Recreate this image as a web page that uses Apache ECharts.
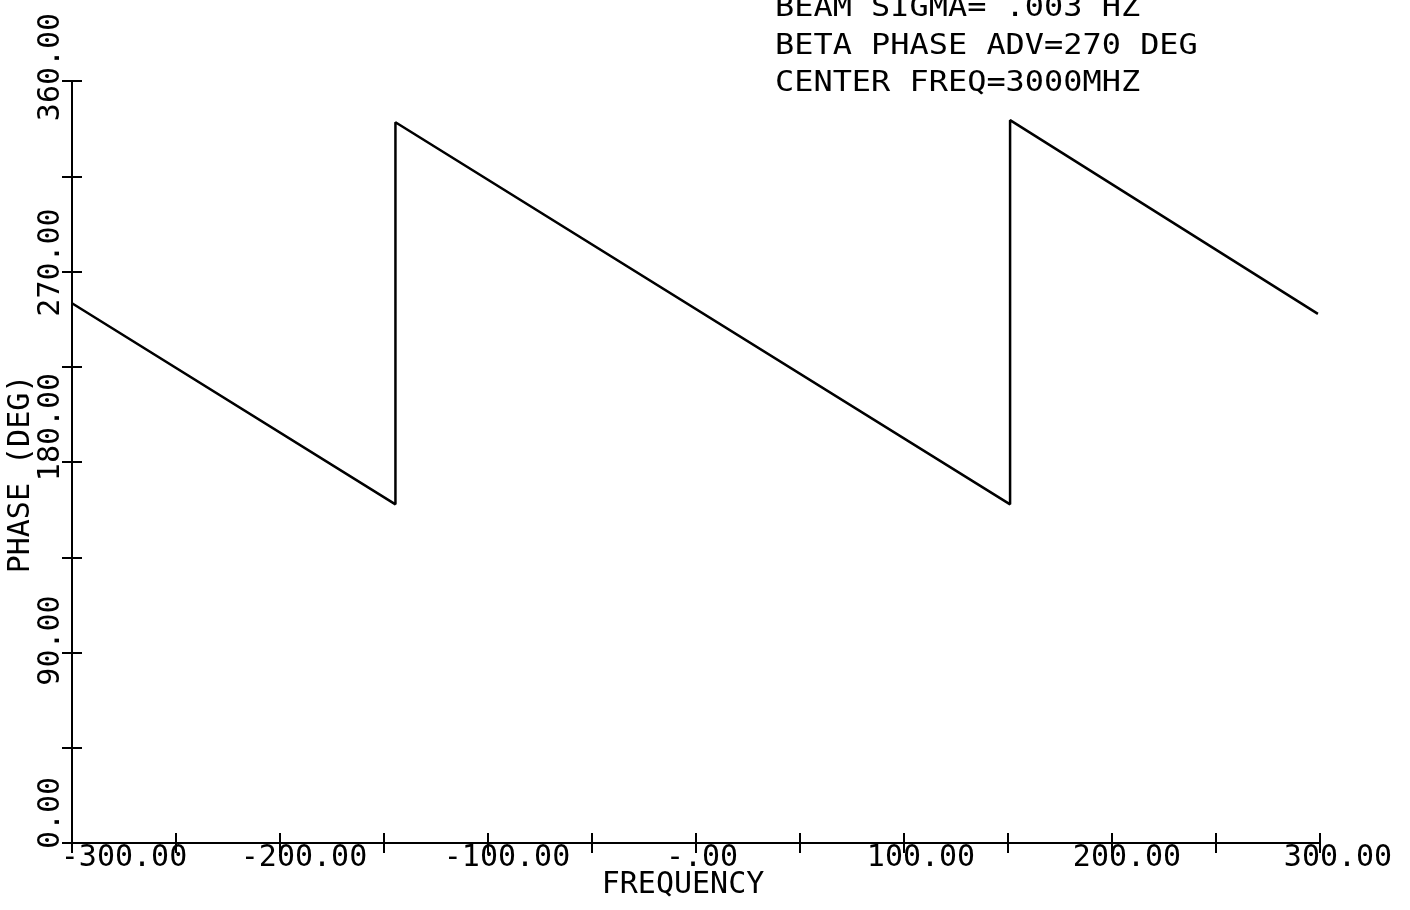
<!DOCTYPE html>
<html>
<head>
<meta charset="utf-8">
<script src="https://cdn.jsdelivr.net/npm/echarts@6/dist/echarts.min.js"></script>
<style>
  html, body { margin: 0; padding: 0; background: #fff; }
  #chart { width: 1410px; height: 910px; }
</style>
</head>
<body>
<div id="chart"></div>
<script>
// Phase response vs. frequency offset (sawtooth wrap of a linear phase)
const freq  = [-300, -144.5, -144.5, 151, 151, 299];
const phase = [255, 160, 340.5, 160, 341.5, 250];

const xTickValues = [-300, -200, -100, 0, 100, 200, 300];
const xTickLabels = ['-300.00', '-200.00', '-100.00', '-.00', '100.00', '200.00', '300.00'];
const yTickValues = [0, 90, 180, 270, 360];
const yTickLabels = ['0.00', '90.00', '180.00', '270.00', '360.00'];

const notes = ['BEAM SIGMA= .003 HZ', 'BETA PHASE ADV=270 DEG', 'CENTER FREQ=3000MHZ'];
const xName = 'FREQUENCY';
const yName = 'PHASE (DEG)';

const FONT = '"DejaVu Sans Mono", monospace';
const INK = '#000';
const LABEL_SIZE = 30;

// Pen-plotter label placement: each label sits a little off its tick,
// shifted along the axis by these amounts (pixels, positive = right / up).
const xLabelShift = [52, 24, 19, 6, 17, 15, 18];
const yLabelShift = [30, 12, 35, 9, 14];

function richFor(shifts) {
  const rich = {};
  shifts.forEach((s, i) => {
    rich['t' + i] = {
      fontFamily: FONT, fontSize: LABEL_SIZE, color: INK,
      padding: s >= 0 ? [0, 0, 0, 2 * s] : [0, -2 * s, 0, 0]
    };
  });
  return rich;
}

function labelFormatter(values, labels) {
  return function (v) {
    const i = values.findIndex(t => Math.abs(t - v) < 1e-6);
    return i >= 0 ? '{t' + i + '|' + labels[i] + '}' : '';
  };
}

const chart = echarts.init(document.getElementById('chart'), null, { renderer: 'canvas' });

const xBase = {
  type: 'value', min: -300, max: 300, interval: 50, position: 'bottom',
  splitLine: { show: false },
  axisLine: { show: true, onZero: false, lineStyle: { color: INK, width: 2 } },
  axisTick: { show: true, length: 10, lineStyle: { color: INK, width: 2 } }
};
const yBase = {
  type: 'value', min: 0, max: 360, interval: 45, position: 'left',
  splitLine: { show: false },
  axisLine: { show: true, onZero: false, lineStyle: { color: INK, width: 2 } },
  axisTick: { show: true, length: 10, lineStyle: { color: INK, width: 2 } }
};

const option = {
  backgroundColor: '#fff',
  animation: false,
  grid: { left: 72, right: 90, top: 81, bottom: 67, containLabel: false, outerBoundsMode: 'none' },
  xAxis: [
    Object.assign({}, xBase, {
      name: xName, nameLocation: 'middle', nameGap: 27, nameMoveOverlap: false,
      nameTextStyle: { fontFamily: FONT, fontSize: LABEL_SIZE, color: INK, padding: [0, 26, 0, 0] },
      axisTick: Object.assign({}, xBase.axisTick, { inside: false }),
      axisLabel: {
        show: true, margin: 0, fontFamily: FONT, fontSize: LABEL_SIZE, color: INK,
        formatter: labelFormatter(xTickValues, xTickLabels),
        rich: richFor(xLabelShift)
      }
    }),
    Object.assign({}, xBase, {
      axisLine: { show: false, onZero: false },
      axisTick: Object.assign({}, xBase.axisTick, { inside: true }),
      axisLabel: { show: false }
    })
  ],
  yAxis: [
    Object.assign({}, yBase, {
      name: yName, nameLocation: 'middle', nameRotate: 90, nameGap: 36, nameMoveOverlap: false,
      nameTextStyle: { fontFamily: FONT, fontSize: LABEL_SIZE, color: INK, padding: [0, 24, 0, 0] },
      axisTick: Object.assign({}, yBase.axisTick, { inside: false }),
      axisLabel: {
        show: true, rotate: 90, margin: 6, fontFamily: FONT, fontSize: LABEL_SIZE, color: INK,
        formatter: labelFormatter(yTickValues, yTickLabels),
        rich: richFor(yLabelShift)
      }
    }),
    Object.assign({}, yBase, {
      axisLine: { show: false, onZero: false },
      axisTick: Object.assign({}, yBase.axisTick, { inside: true }),
      axisLabel: { show: false }
    })
  ],
  graphic: notes.map((t, i) => ({
    type: 'text', x: 775, y: 9 + i * 37.5, scaleX: 1.14,
    style: {
      text: t, x: 0, y: 0, fill: INK,
      font: '28px ' + FONT, textVerticalAlign: 'middle', textAlign: 'left'
    }
  })),
  series: [{
    type: 'line',
    xAxisIndex: 0, yAxisIndex: 0,
    data: freq.map((f, i) => [f, phase[i]]),
    showSymbol: false, symbol: 'none',
    lineStyle: { color: INK, width: 2.5 },
    silent: true
  }]
};

chart.setOption(option);
</script>
</body>
</html>
